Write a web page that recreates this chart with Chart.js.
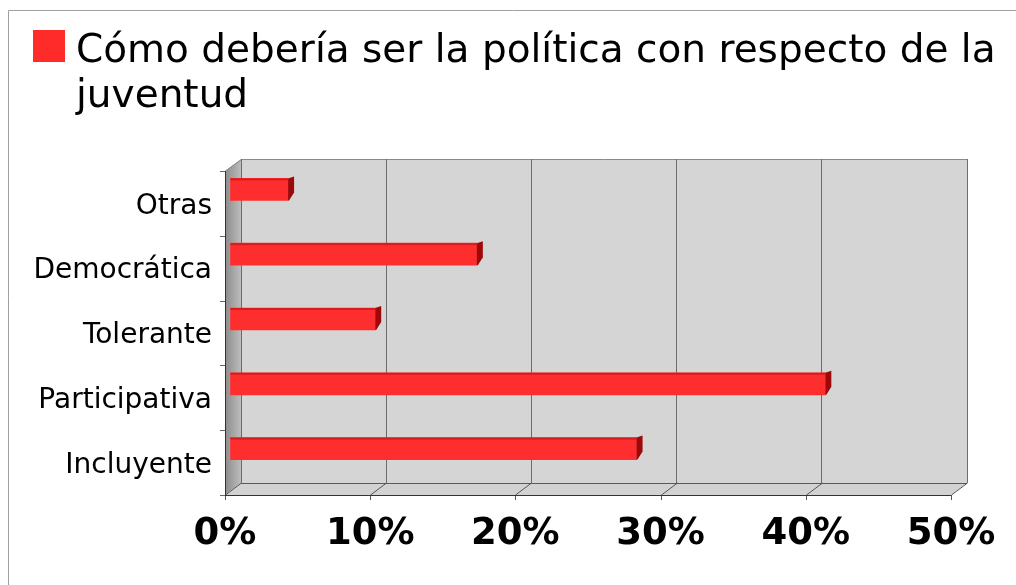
<!DOCTYPE html>
<html>
<head>
<meta charset="utf-8">
<script src="https://cdn.jsdelivr.net/npm/chart.js@4"></script>
<style>
    html, body {
        margin: 0;
        padding: 0;
        background: #fff;
    }
    #wrap {
        position: relative;
        width: 1016px;
        height: 585px;
    }
</style>
</head>
<body>
<div id="wrap">
    <canvas id="politica" width="1016" height="585"></canvas>
</div>
<script>
const categories = ['Otras', 'Democrática', 'Tolerante', 'Participativa', 'Incluyente'];
const shares = [4, 17, 10, 41, 28];
const percentTicks = [0, 10, 20, 30, 40, 50];
const titleLines = ['Cómo debería ser la política con respecto de la', 'juventud'];

const FONT = '"DejaVu Sans", Verdana, sans-serif';
const DEPTH_X = 16;   // how far the front edge sits left of the back wall
const DEPTH_Y = 12;   // and how far below it

// legend box + two line heading, plus the outer frame
const heading = {
    id: 'heading',
    beforeDraw(chart) {
        const ctx = chart.ctx;
        ctx.save();
        ctx.fillStyle = '#fff';
        ctx.fillRect(0, 0, chart.width, chart.height);
        ctx.strokeStyle = '#a0a0a0';
        ctx.lineWidth = 1;
        ctx.beginPath();
        ctx.moveTo(8.5, chart.height);
        ctx.lineTo(8.5, 10.5);
        ctx.lineTo(chart.width, 10.5);
        ctx.stroke();

        ctx.fillStyle = '#ff2b2b';
        ctx.fillRect(33, 30, 32, 32);
        ctx.fillStyle = '#000';
        ctx.font = '39px ' + FONT;
        ctx.textBaseline = 'alphabetic';
        ctx.fillText(titleLines[0], 76, 62);
        ctx.fillText(titleLines[1], 76, 107);
        ctx.restore();
    }
};

// walls and floor around the plot area
const box3d = {
    id: 'box3d',
    beforeDraw(chart) {
        const ctx = chart.ctx;
        const a = chart.chartArea;
        const x = chart.scales.x;
        ctx.save();

        // back wall
        ctx.fillStyle = '#d5d5d5';
        ctx.fillRect(a.left, a.top, a.right - a.left, a.bottom - a.top);

        // left wall
        const g = ctx.createLinearGradient(a.left - DEPTH_X, 0, a.left, 0);
        g.addColorStop(0, '#8c8c8c');
        g.addColorStop(1, '#bcbcbc');
        ctx.fillStyle = g;
        ctx.beginPath();
        ctx.moveTo(a.left, a.top);
        ctx.lineTo(a.left, a.bottom);
        ctx.lineTo(a.left - DEPTH_X, a.bottom + DEPTH_Y);
        ctx.lineTo(a.left - DEPTH_X, a.top + DEPTH_Y);
        ctx.closePath();
        ctx.fill();

        // floor
        ctx.fillStyle = '#d2d2d2';
        ctx.beginPath();
        ctx.moveTo(a.left, a.bottom);
        ctx.lineTo(a.right, a.bottom);
        ctx.lineTo(a.right - DEPTH_X, a.bottom + DEPTH_Y);
        ctx.lineTo(a.left - DEPTH_X, a.bottom + DEPTH_Y);
        ctx.closePath();
        ctx.fill();

        ctx.lineWidth = 1;
        ctx.strokeStyle = '#8a8a8a';
        ctx.beginPath();
        ctx.moveTo(a.left - DEPTH_X + 0.5, a.top + DEPTH_Y);
        ctx.lineTo(a.left + 0.5, a.top + 0.5);
        ctx.lineTo(a.right + 0.5, a.top + 0.5);
        ctx.lineTo(a.right + 0.5, a.bottom);
        ctx.stroke();

        ctx.strokeStyle = '#5a5a5a';
        ctx.beginPath();
        ctx.moveTo(a.left, a.bottom + 0.5);
        ctx.lineTo(a.right, a.bottom + 0.5);
        ctx.stroke();

        // floor ticks running from the front edge to the wall
        ctx.strokeStyle = '#555';
        ctx.beginPath();
        percentTicks.forEach(v => {
            const px = Math.round(x.getPixelForValue(v)) + 0.5;
            ctx.moveTo(px, a.bottom);
            ctx.lineTo(px - DEPTH_X, a.bottom + DEPTH_Y);
            ctx.lineTo(px - DEPTH_X, a.bottom + DEPTH_Y + 5);
        });
        ctx.stroke();

        // front edge of the floor and left wall edge
        ctx.strokeStyle = '#333';
        ctx.beginPath();
        ctx.moveTo(a.left - DEPTH_X, a.bottom + DEPTH_Y + 0.5);
        ctx.lineTo(a.right - DEPTH_X, a.bottom + DEPTH_Y + 0.5);
        ctx.moveTo(a.left - DEPTH_X + 0.5, a.top + DEPTH_Y);
        ctx.lineTo(a.left - DEPTH_X + 0.5, a.bottom + DEPTH_Y);
        ctx.stroke();

        // category ticks on the left wall
        const band = (a.bottom - a.top) / categories.length;
        ctx.strokeStyle = '#666';
        ctx.beginPath();
        for (let i = 0; i <= categories.length; i++) {
            const py = Math.round(a.top + DEPTH_Y + i * band) + 0.5;
            ctx.moveTo(a.left - DEPTH_X - 5, py);
            ctx.lineTo(a.left - DEPTH_X, py);
        }
        ctx.stroke();
        ctx.restore();
    }
};

// bars stand a little in front of the back wall, with a shaded end
const barDepth = {
    id: 'barDepth',
    beforeDatasetsDraw(chart) {
        chart.ctx.save();
        chart.ctx.translate(-11, -2);
    },
    afterDatasetsDraw(chart) {
        const ctx = chart.ctx;
        chart.getDatasetMeta(0).data.forEach(bar => {
            const p = bar.getProps(['x', 'y', 'base', 'height'], true);
            const top = p.y - p.height / 2;
            const bottom = p.y + p.height / 2;
            ctx.fillStyle = '#d81c1c';
            ctx.fillRect(p.base, top, p.x - p.base, 2);
            ctx.fillStyle = '#9e0808';
            ctx.beginPath();
            ctx.moveTo(p.x, top);
            ctx.lineTo(p.x + 6, top - 2);
            ctx.lineTo(p.x + 6, bottom - 8);
            ctx.lineTo(p.x + 1, bottom);
            ctx.lineTo(p.x, bottom);
            ctx.closePath();
            ctx.fill();
        });
        ctx.restore();
    }
};

new Chart(document.getElementById('politica'), {
    type: 'bar',
    data: {
        labels: categories,
        datasets: [{
            data: shares,
            backgroundColor: '#ff2e2e',
            borderWidth: 0,
            barThickness: 22,
            clip: false
        }]
    },
    options: {
        indexAxis: 'y',
        responsive: false,
        animation: false,
        layout: {
            padding: { left: 0, right: 49, top: 159, bottom: 0 }
        },
        plugins: {
            legend: { display: false },
            tooltip: { enabled: false }
        },
        scales: {
            x: {
                min: 0,
                max: 50,
                afterBuildTicks(scale) {
                    scale.ticks = percentTicks.map(v => ({ value: v }));
                },
                afterFit(scale) {
                    scale.height = 102;
                    scale.paddingLeft = 0;
                    scale.paddingRight = 0;
                },
                grid: {
                    color: '#6c6c6c',
                    drawTicks: false
                },
                border: { display: false },
                ticks: {
                    padding: 29,
                    labelOffset: -DEPTH_X,
                    maxRotation: 0,
                    color: '#000',
                    font: { family: FONT, size: 37, weight: 'bold' },
                    callback: v => v + '%'
                }
            },
            y: {
                afterFit(scale) {
                    scale.width = 241;
                    scale.paddingTop = 0;
                    scale.paddingBottom = 0;
                },
                grid: { display: false, drawTicks: false },
                border: { display: false },
                ticks: {
                    padding: 29,
                    labelOffset: 15,
                    color: '#000',
                    font: { family: FONT, size: 28 }
                }
            }
        }
    },
    plugins: [heading, box3d, barDepth]
});
</script>
</body>
</html>
